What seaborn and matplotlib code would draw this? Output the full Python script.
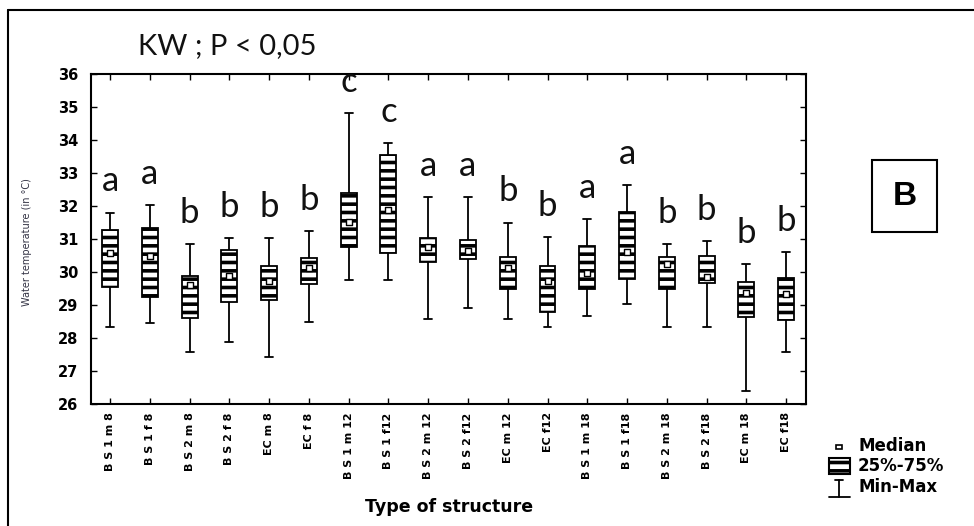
import numpy as np
import pandas as pd
import matplotlib
matplotlib.use("Agg")
import matplotlib.pyplot as plt
from matplotlib.patches import Rectangle
from matplotlib.lines import Line2D
import seaborn as sns

# ---- data ----
categories = ["B S 1 m 8", "B S 1 f 8", "B S 2 m 8", "B S 2 f 8", "EC m 8", "EC f 8",
              "B S 1 m 12", "B S 1 f12", "B S 2 m 12", "B S 2 f12", "EC m 12", "EC f12",
              "B S 1 m 18", "B S 1 f18", "B S 2 m 18", "B S 2 f18", "EC m 18", "EC f18"]
mins    = [28.32, 28.44, 27.58, 27.89, 27.41, 28.50, 29.76, 29.76, 28.57, 28.92, 28.57, 28.32,
           28.67, 29.02, 28.32, 28.32, 26.39, 27.58]
q1s     = [29.56, 29.25, 28.60, 29.08, 29.15, 29.63, 30.77, 30.58, 30.29, 30.39, 29.50, 28.80,
           29.50, 29.80, 29.50, 29.68, 28.65, 28.55]
medians = [30.58, 30.48, 29.60, 29.88, 29.74, 30.11, 31.52, 31.88, 30.77, 30.64, 30.11, 29.73,
           29.96, 30.62, 30.24, 29.86, 29.35, 29.32]
q3s     = [31.27, 31.32, 29.88, 30.67, 30.18, 30.42, 32.40, 33.55, 31.02, 30.97, 30.44, 30.18,
           30.80, 31.81, 30.44, 30.50, 29.71, 29.81]
maxs    = [31.80, 32.03, 30.85, 31.02, 31.02, 31.25, 34.81, 33.90, 32.28, 32.28, 31.50, 31.07,
           31.60, 32.63, 30.85, 30.95, 30.24, 30.60]
letters = ["a", "a", "b", "b", "b", "b", "c", "c", "a", "a", "b", "b",
           "a", "a", "b", "b", "b", "b"]
y_ticks = [26, 27, 28, 29, 30, 31, 32, 33, 34, 35, 36]

rows = []
for c, a, b, m, d, e in zip(categories, mins, q1s, medians, q3s, maxs):
    for v in (a, b, m, d, e):
        rows.append({"cat": c, "val": v})
df = pd.DataFrame(rows)

sns.set_style("ticks")
plt.rcParams["font.family"] = ["DejaVu Sans"]
plt.rcParams["hatch.linewidth"] = 2.6
plt.rcParams["text.color"] = "black"
plt.rcParams["axes.labelcolor"] = "black"
plt.rcParams["xtick.color"] = "black"
plt.rcParams["ytick.color"] = "black"

W, H = 974, 526
fig = plt.figure(figsize=(W / 100, H / 100), dpi=100)

def fx(x):
    return x / W

def fy(y):
    return 1 - y / H

ax = fig.add_axes([fx(91), fy(404), fx(806) - fx(91), fy(74) - fy(404)])

sns.boxplot(data=df, x="cat", y="val", order=categories, whis=(0, 100),
            width=0.40, color="white", linecolor="black", linewidth=1.3,
            medianprops={"linewidth": 0}, ax=ax)

for p in ax.patches:
    p.set_hatch("--")
    p.set_edgecolor("black")

# median markers
xpos = np.arange(len(categories))
ax.scatter(xpos, medians, marker="s", s=18, facecolor="white", edgecolor="black",
           linewidth=1.0, zorder=5)

# significance letters
for xi, top, lt in zip(xpos, maxs, letters):
    ax.text(xi, top + 0.64, lt, ha="center", va="baseline", fontsize=25,
            family="Lato", color="#111111", clip_on=False)

ax.set_xlim(-0.48, 17.5)
ax.set_ylim(26, 36)
ax.set_yticks(y_ticks)
ax.set_yticklabels([str(t) for t in y_ticks], fontsize=10.5, fontweight="bold")
ax.set_xticks(xpos)
ax.set_xticklabels(categories, rotation=90, fontsize=8, fontweight="bold")
ax.set_xlabel("")
ax.set_ylabel("")
ax.tick_params(direction="in", top=True, right=True, length=4, width=1.0,
               color="black", pad=6)
ax.tick_params(axis="y", pad=9)
for s in ax.spines.values():
    s.set_visible(True)
    s.set_linewidth(1.5)
    s.set_color("black")

# titles / labels
fig.text(fx(138), fy(46), "KW ; P < 0,05", fontsize=21, family="Lato",
         ha="left", va="center", color="#111111")
fig.text(fx(27), fy(242), "Water temperature (in °C)", rotation=90, fontsize=7,
         ha="center", va="center", color="#333344")
fig.text(fx(449), fy(507), "Type of structure", fontsize=12.5, fontweight="bold",
         ha="center", va="center")

# "B" panel box
fig.add_artist(Rectangle((fx(872), fy(232)), fx(937) - fx(872), fy(160) - fy(232),
                         transform=fig.transFigure, facecolor="white",
                         edgecolor="black", linewidth=1.5))
fig.text(fx(904.5), fy(196), "B", fontsize=24, fontweight="bold",
         family="Liberation Sans", ha="center", va="center")

# legend (manual)
fig.add_artist(Rectangle((fx(836), fy(448.5)), fx(6), fx(4) * W / H,
                         transform=fig.transFigure, facecolor="white",
                         edgecolor="black", linewidth=1.2))
fig.add_artist(Rectangle((fx(829), fy(474)), fx(21), 16 / H,
                         transform=fig.transFigure, facecolor="white",
                         edgecolor="black", linewidth=1.5, hatch="--"))
fig.add_artist(Line2D([fx(839), fx(839)], [fy(480), fy(497)], transform=fig.transFigure,
                      color="black", linewidth=1.3))
fig.add_artist(Line2D([fx(835), fx(843)], [fy(480), fy(480)], transform=fig.transFigure,
                      color="black", linewidth=1.3))
fig.add_artist(Line2D([fx(829), fx(850)], [fy(497), fy(497)], transform=fig.transFigure,
                      color="black", linewidth=1.3))
for yy, t in [(446, "Median"), (466, "25%-75%"), (487, "Min-Max")]:
    fig.text(fx(858), fy(yy), t, fontsize=12, fontweight="bold", ha="left", va="center")

# outer frame (top and left lines)
fig.add_artist(Line2D([fx(8), 1.0], [fy(10), fy(10)], transform=fig.transFigure,
                      color="black", linewidth=1.5))
fig.add_artist(Line2D([fx(8), fx(8)], [fy(10), 0.0], transform=fig.transFigure,
                      color="black", linewidth=1.5))

fig.savefig("out.png", dpi=100)
